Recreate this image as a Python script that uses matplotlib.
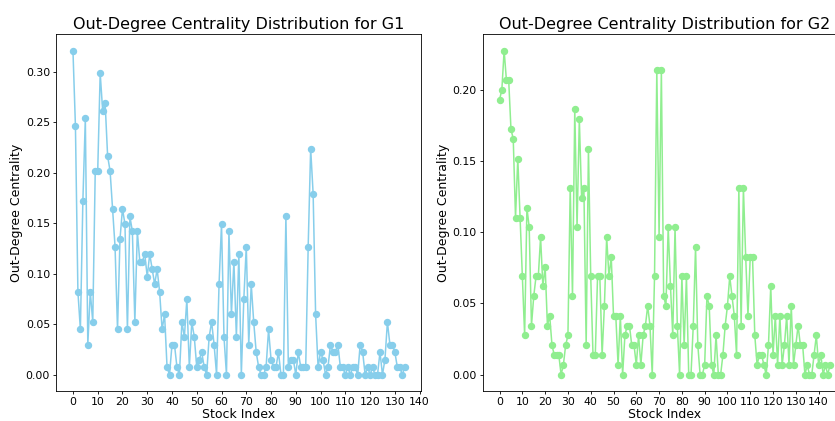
import numpy as np
import matplotlib
matplotlib.use("Agg")
from matplotlib import pyplot as plt

# out-degree counts (centrality = count / (n - 1))
g1_counts = [43, 33, 11, 6, 23, 34, 4, 11, 7, 27,
             27, 40, 35, 36, 29, 27, 22, 17, 6, 18,
             22, 20, 6, 21, 19, 7, 19, 15, 15, 16,
             13, 16, 14, 12, 14, 11, 6, 8, 1, 0,
             4, 4, 1, 0, 7, 5, 10, 1, 7, 5,
             1, 2, 3, 1, 0, 5, 7, 4, 0, 12,
             20, 5, 0, 19, 8, 15, 5, 16, 0, 10,
             17, 4, 12, 7, 3, 1, 0, 0, 1, 6,
             2, 1, 1, 3, 0, 0, 21, 1, 2, 2,
             0, 3, 1, 1, 1, 17, 30, 24, 8, 1,
             3, 2, 0, 1, 4, 3, 3, 4, 1, 1,
             0, 1, 0, 1, 1, 0, 4, 3, 0, 1,
             0, 1, 0, 0, 3, 0, 2, 7, 4, 4,
             3, 1, 1, 0, 1]

g2_counts = [28, 29, 33, 30, 30, 25, 24, 16, 22, 16,
             10, 4, 17, 15, 5, 8, 10, 10, 14, 9,
             11, 5, 6, 3, 2, 2, 2, 0, 1, 3,
             4, 19, 8, 27, 15, 26, 18, 19, 3, 23,
             10, 2, 2, 10, 10, 2, 7, 14, 10, 12,
             6, 6, 1, 6, 0, 4, 5, 5, 3, 3,
             1, 4, 1, 4, 5, 7, 5, 0, 10, 31,
             14, 31, 8, 7, 15, 9, 4, 15, 5, 0,
             10, 3, 10, 0, 0, 5, 13, 3, 0, 0,
             1, 8, 7, 1, 0, 4, 0, 0, 2, 5,
             7, 10, 8, 6, 2, 19, 5, 19, 12, 6,
             12, 12, 4, 1, 2, 2, 1, 0, 3, 9,
             2, 6, 1, 6, 1, 3, 6, 1, 7, 1,
             3, 5, 3, 3, 0, 1, 0, 0, 2, 4,
             1, 2, 0, 1, 0, 1]

g1 = np.array(g1_counts) / (len(g1_counts) - 1)
g2 = np.array(g2_counts) / (len(g2_counts) - 1)

fig = plt.figure(figsize=(8.35, 4.21), dpi=100)
# right panel runs past the figure edge like in the reference
ax1 = fig.add_axes([0.0675, 0.0715, 0.4371, 0.847])
ax2 = fig.add_axes([0.5785, 0.0715, 0.4353, 0.847])

for ax, vals, col, name in [(ax1, g1, 'skyblue', 'G1'), (ax2, g2, 'lightgreen', 'G2')]:
    ax.plot(np.arange(len(vals)), vals, marker='o', color=col, lw=1.1, ms=4.3)
    ax.set_title('Out-Degree Centrality Distribution for ' + name, fontsize=11.5, pad=4)
    ax.set_xlabel('Stock Index', fontsize=9, labelpad=0.5)
    ax.set_ylabel('Out-Degree Centrality', fontsize=9, labelpad=2)
    ax.set_xticks(np.arange(0, 141, 10))
    ax.tick_params(labelsize=7.8, length=2.5, width=0.6, pad=2)
    for s in ax.spines.values():
        s.set_linewidth(0.6)

plt.savefig('out.png', dpi=100)
